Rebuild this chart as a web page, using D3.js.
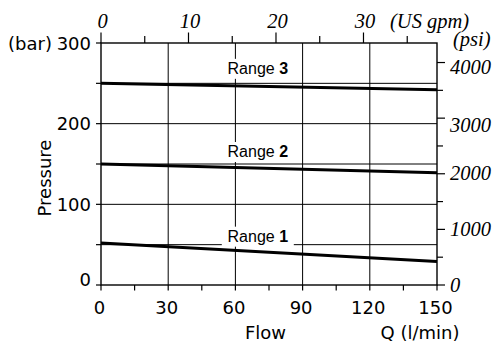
<!DOCTYPE html>
<html><head><meta charset="utf-8">
<script src="https://cdn.jsdelivr.net/npm/d3@7"></script>
<style>html,body{margin:0;padding:0;background:#fff;}svg{display:block;}</style>
</head><body>
<svg id="c" width="496" height="346"></svg>
<script>
// ---- data ----
const flowEnds = [0, 150];                 // l/min
const rangeNames = ["1", "2", "3"];
const rangeNominal = [50, 150, 250];       // bar (reference lines)
const range1 = [52, 29];                   // bar at flowEnds
const range2 = [150, 139];
const range3 = [250, 242];
const flowTicks = [0, 30, 60, 90, 120, 150];
const flowMinorTicks = [0, 15, 30, 45, 60, 75, 90, 105, 120, 135, 150];
const barTicks = [0, 100, 200, 300];
const barMinorTicks = [50, 150, 250];
const gpmTicks = [0, 10, 20, 30];
const gpmMinorTicks = [5, 15, 25, 35];
const psiTicks = [0, 1000, 2000, 3000, 4000];
const psiMinorTicks = [500, 1500, 2500, 3500];
const lpmPerGpm = 3.906;
const psiPerBar = 14.5038;
const labelFlow = 70;

// ---- layout ----
const L = 101, R = 437, T = 43, B = 285;
const svg = d3.select("#c");
const x = d3.scaleLinear().domain([0, 150]).range([L, R]);
const y = d3.scaleLinear().domain([0, 300]).range([B, T]);
const xg = d3.scaleLinear().domain([0, 150 / lpmPerGpm]).range([L, R]);
const yp = d3.scaleLinear().domain([0, 300 * psiPerBar]).range([B, T]);

const sans = "DejaVu Sans, Verdana, sans-serif";
const serif = "Liberation Serif, Times New Roman, serif";
const arial = "Liberation Sans, Arial, sans-serif";

// gridlines
const grid = svg.append("g").attr("stroke", "#000").attr("stroke-width", 1);
grid.selectAll(".v").data([30, 60, 90, 120]).join("line")
  .attr("x1", d => x(d)).attr("x2", d => x(d)).attr("y1", T).attr("y2", B);
grid.selectAll(".h").data([100, 200]).join("line")
  .attr("x1", L).attr("x2", R).attr("y1", d => y(d)).attr("y2", d => y(d));
// reference lines
grid.selectAll(".r").data(rangeNominal).join("line")
  .attr("x1", L).attr("x2", R).attr("y1", d => y(d)).attr("y2", d => y(d));

// label boxes
const labelShift = [-3, -7, -9.5];
const lab = rangeNominal.map((v, i) => ({name: rangeNames[i], base: y(v) + labelShift[i]}));
svg.append("g").selectAll("rect").data(lab).join("rect")
  .attr("x", x(labelFlow) - 36).attr("width", 72)
  .attr("y", d => d.base - 15).attr("height", 20)
  .attr("fill", "#fff");

// frame
const fr = svg.append("g").attr("stroke", "#000").attr("stroke-width", 1.4).attr("fill", "none");
fr.append("rect").attr("x", L).attr("y", T).attr("width", R - L).attr("height", B - T);

// data lines
const series = [range1, range2, range3];
const line = d3.line().x((d, i) => x(flowEnds[i])).y(d => y(d));
svg.append("g").selectAll("path").data(series).join("path")
  .attr("d", d => line(d)).attr("fill", "none").attr("stroke", "#000")
  .attr("stroke-width", 3).attr("stroke-linecap", "butt");

// range labels
const lt = svg.append("g").selectAll("text").data(lab).join("text")
  .attr("x", x(labelFlow)).attr("y", d => d.base).attr("text-anchor", "middle")
  .attr("font-family", arial).attr("font-size", 16).attr("fill", "#000");
lt.append("tspan").text("Range ");
lt.append("tspan").attr("font-weight", "bold").text(d => d.name);

// bottom axis
const ax = svg.append("g").attr("stroke", "#000").attr("stroke-width", 1.2);
ax.selectAll(".bt").data(flowMinorTicks).join("line")
  .attr("x1", d => x(d)).attr("x2", d => x(d)).attr("y1", B).attr("y2", B + 5.5);
svg.append("g").selectAll("text").data(flowTicks).join("text")
  .attr("x", d => x(d) - 1.5).attr("y", 314).attr("text-anchor", "middle")
  .attr("font-family", sans).attr("font-size", 18).text(d => d);
// left axis
ax.selectAll(".lt").data(barTicks.concat(barMinorTicks)).join("line")
  .attr("x1", L - 5).attr("x2", L).attr("y1", d => y(d)).attr("y2", d => y(d));
svg.append("g").selectAll("text").data(barTicks).join("text")
  .attr("x", 91).attr("y", d => d === 0 ? y(d) + 1 : y(d) + 6.5).attr("text-anchor", "end")
  .attr("font-family", sans).attr("font-size", 18).text(d => d);
svg.append("text").attr("x", 52).attr("y", y(300) + 6.5).attr("text-anchor", "end")
  .attr("font-family", sans).attr("font-size", 18).text("(bar)");
svg.append("text").attr("transform", "translate(51," + ((T + B) / 2 + 14) + ") rotate(-90)")
  .attr("text-anchor", "middle").attr("font-family", sans).attr("font-size", 18).text("Pressure");
svg.append("text").attr("x", 265.5).attr("y", 339).attr("text-anchor", "middle")
  .attr("font-family", sans).attr("font-size", 18).text("Flow");
svg.append("text").attr("x", 420).attr("y", 339).attr("text-anchor", "middle")
  .attr("font-family", sans).attr("font-size", 18).text("Q (l/min)");

// top axis
ax.selectAll(".tt").data(gpmTicks).join("line")
  .attr("x1", d => xg(d)).attr("x2", d => xg(d)).attr("y1", T).attr("y2", T - 10.5);
ax.selectAll(".tm").data(gpmMinorTicks).join("line")
  .attr("x1", d => xg(d)).attr("x2", d => xg(d)).attr("y1", T).attr("y2", T - 7);
svg.append("g").selectAll("text").data(gpmTicks).join("text")
  .attr("x", d => xg(d) + 1.5).attr("y", 27.5).attr("text-anchor", "middle")
  .attr("font-family", serif).attr("font-style", "italic").attr("font-size", 20.5).text(d => d);
svg.append("text").attr("x", 390).attr("y", 27.5)
  .attr("font-family", serif).attr("font-style", "italic").attr("font-size", 20.5).text("(US gpm)");

// right axis
ax.selectAll(".rt").data(psiTicks).join("line")
  .attr("x1", R).attr("x2", R + 8).attr("y1", d => yp(d)).attr("y2", d => yp(d));
ax.selectAll(".rm").data(psiMinorTicks).join("line")
  .attr("x1", R).attr("x2", R + 6).attr("y1", d => yp(d)).attr("y2", d => yp(d));
const psiShift = {0: 7, 1000: 7, 2000: 6, 3000: 14, 4000: 11.5};
svg.append("g").selectAll("text").data(psiTicks).join("text")
  .attr("x", 450).attr("y", d => yp(d) + psiShift[d])
  .attr("font-family", serif).attr("font-style", "italic").attr("font-size", 20.5).text(d => d);
svg.append("text").attr("x", 453).attr("y", 46)
  .attr("font-family", serif).attr("font-style", "italic").attr("font-size", 20.5).text("(psi)");
</script>
</body></html>
